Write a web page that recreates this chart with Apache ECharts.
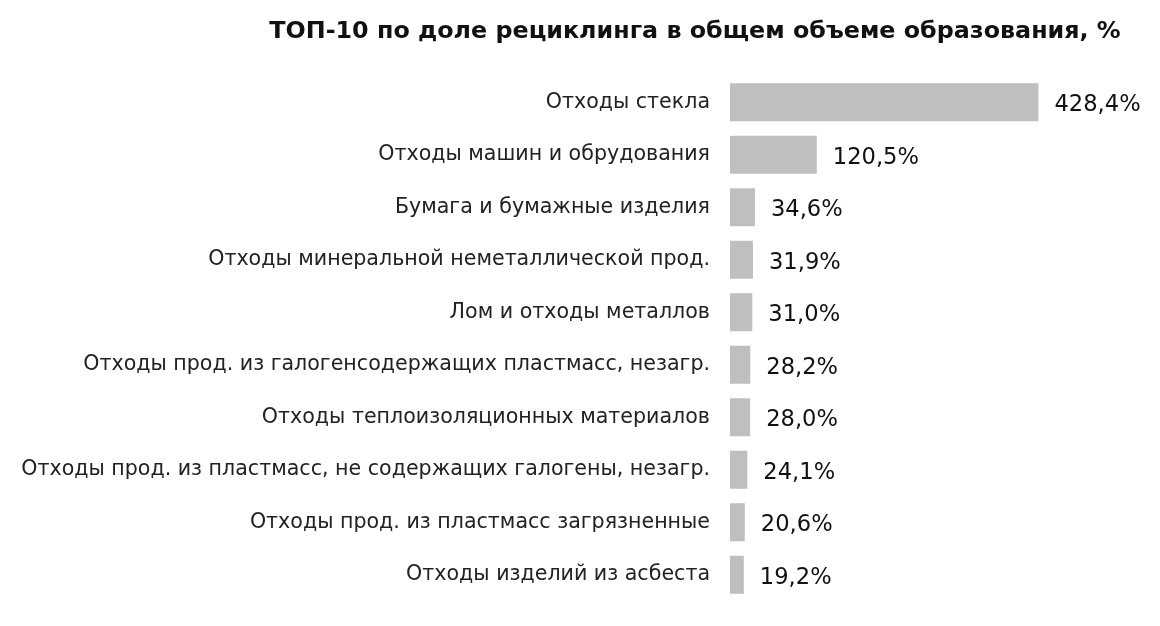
<!DOCTYPE html>
<html>
<head>
<meta charset="utf-8">
<script src="https://cdn.jsdelivr.net/npm/echarts@6/dist/echarts.min.js"></script>
<style>
  html, body { margin: 0; padding: 0; background: #fff; }
  #chart { width: 1160px; height: 626px; }
</style>
</head>
<body>
<div id="chart"></div>
<script>
// ТОП-10 отходов по доле рециклинга (% от объёма образования)
const TITLE = 'ТОП-10 по доле рециклинга в общем объеме образования, %'
const CATEGORIES = [
  'Отходы стекла',
  'Отходы машин и обрудования',
  'Бумага и бумажные изделия',
  'Отходы минеральной неметаллической прод.',
  'Лом и отходы металлов',
  'Отходы прод. из галогенсодержащих пластмасс, незагр.',
  'Отходы теплоизоляционных материалов',
  'Отходы прод. из пластмасс, не содержащих галогены, незагр.',
  'Отходы прод. из пластмасс загрязненные',
  'Отходы изделий из асбеста'
]
const VALUES = [428.4, 120.5, 34.6, 31.9, 31.0, 28.2, 28.0, 24.1, 20.6, 19.2]

const FONT = 'DejaVu Sans, sans-serif'
const fmt = v => v.toFixed(1).replace('.', ',') + '%'

const chart = echarts.init(document.getElementById('chart'))
chart.setOption({
  animation: false,
  title: {
    text: TITLE, left: 690, top: 15, textAlign: 'center',
    textStyle: { fontFamily: FONT, fontSize: 23.8, fontWeight: 'bold', color: '#111' }
  },
  grid: { left: 730, right: 70, top: 76, bottom: 25 },
  xAxis: { type: 'value', min: 0, max: 500, show: false },
  yAxis: {
    type: 'category', inverse: true, data: CATEGORIES,
    axisLine: { show: false }, axisTick: { show: false },
    axisLabel: { margin: 20, fontFamily: FONT, fontSize: 20.6, color: '#222' }
  },
  series: [{
    type: 'bar', data: VALUES, barWidth: 38,
    itemStyle: { color: '#bfbfbf' },
    label: {
      show: true, position: 'right', distance: 16, offset: [0, 3],
      fontFamily: FONT, fontSize: 22.6, color: '#111',
      formatter: p => fmt(p.value)
    }
  }]
})
</script>
</body>
</html>
